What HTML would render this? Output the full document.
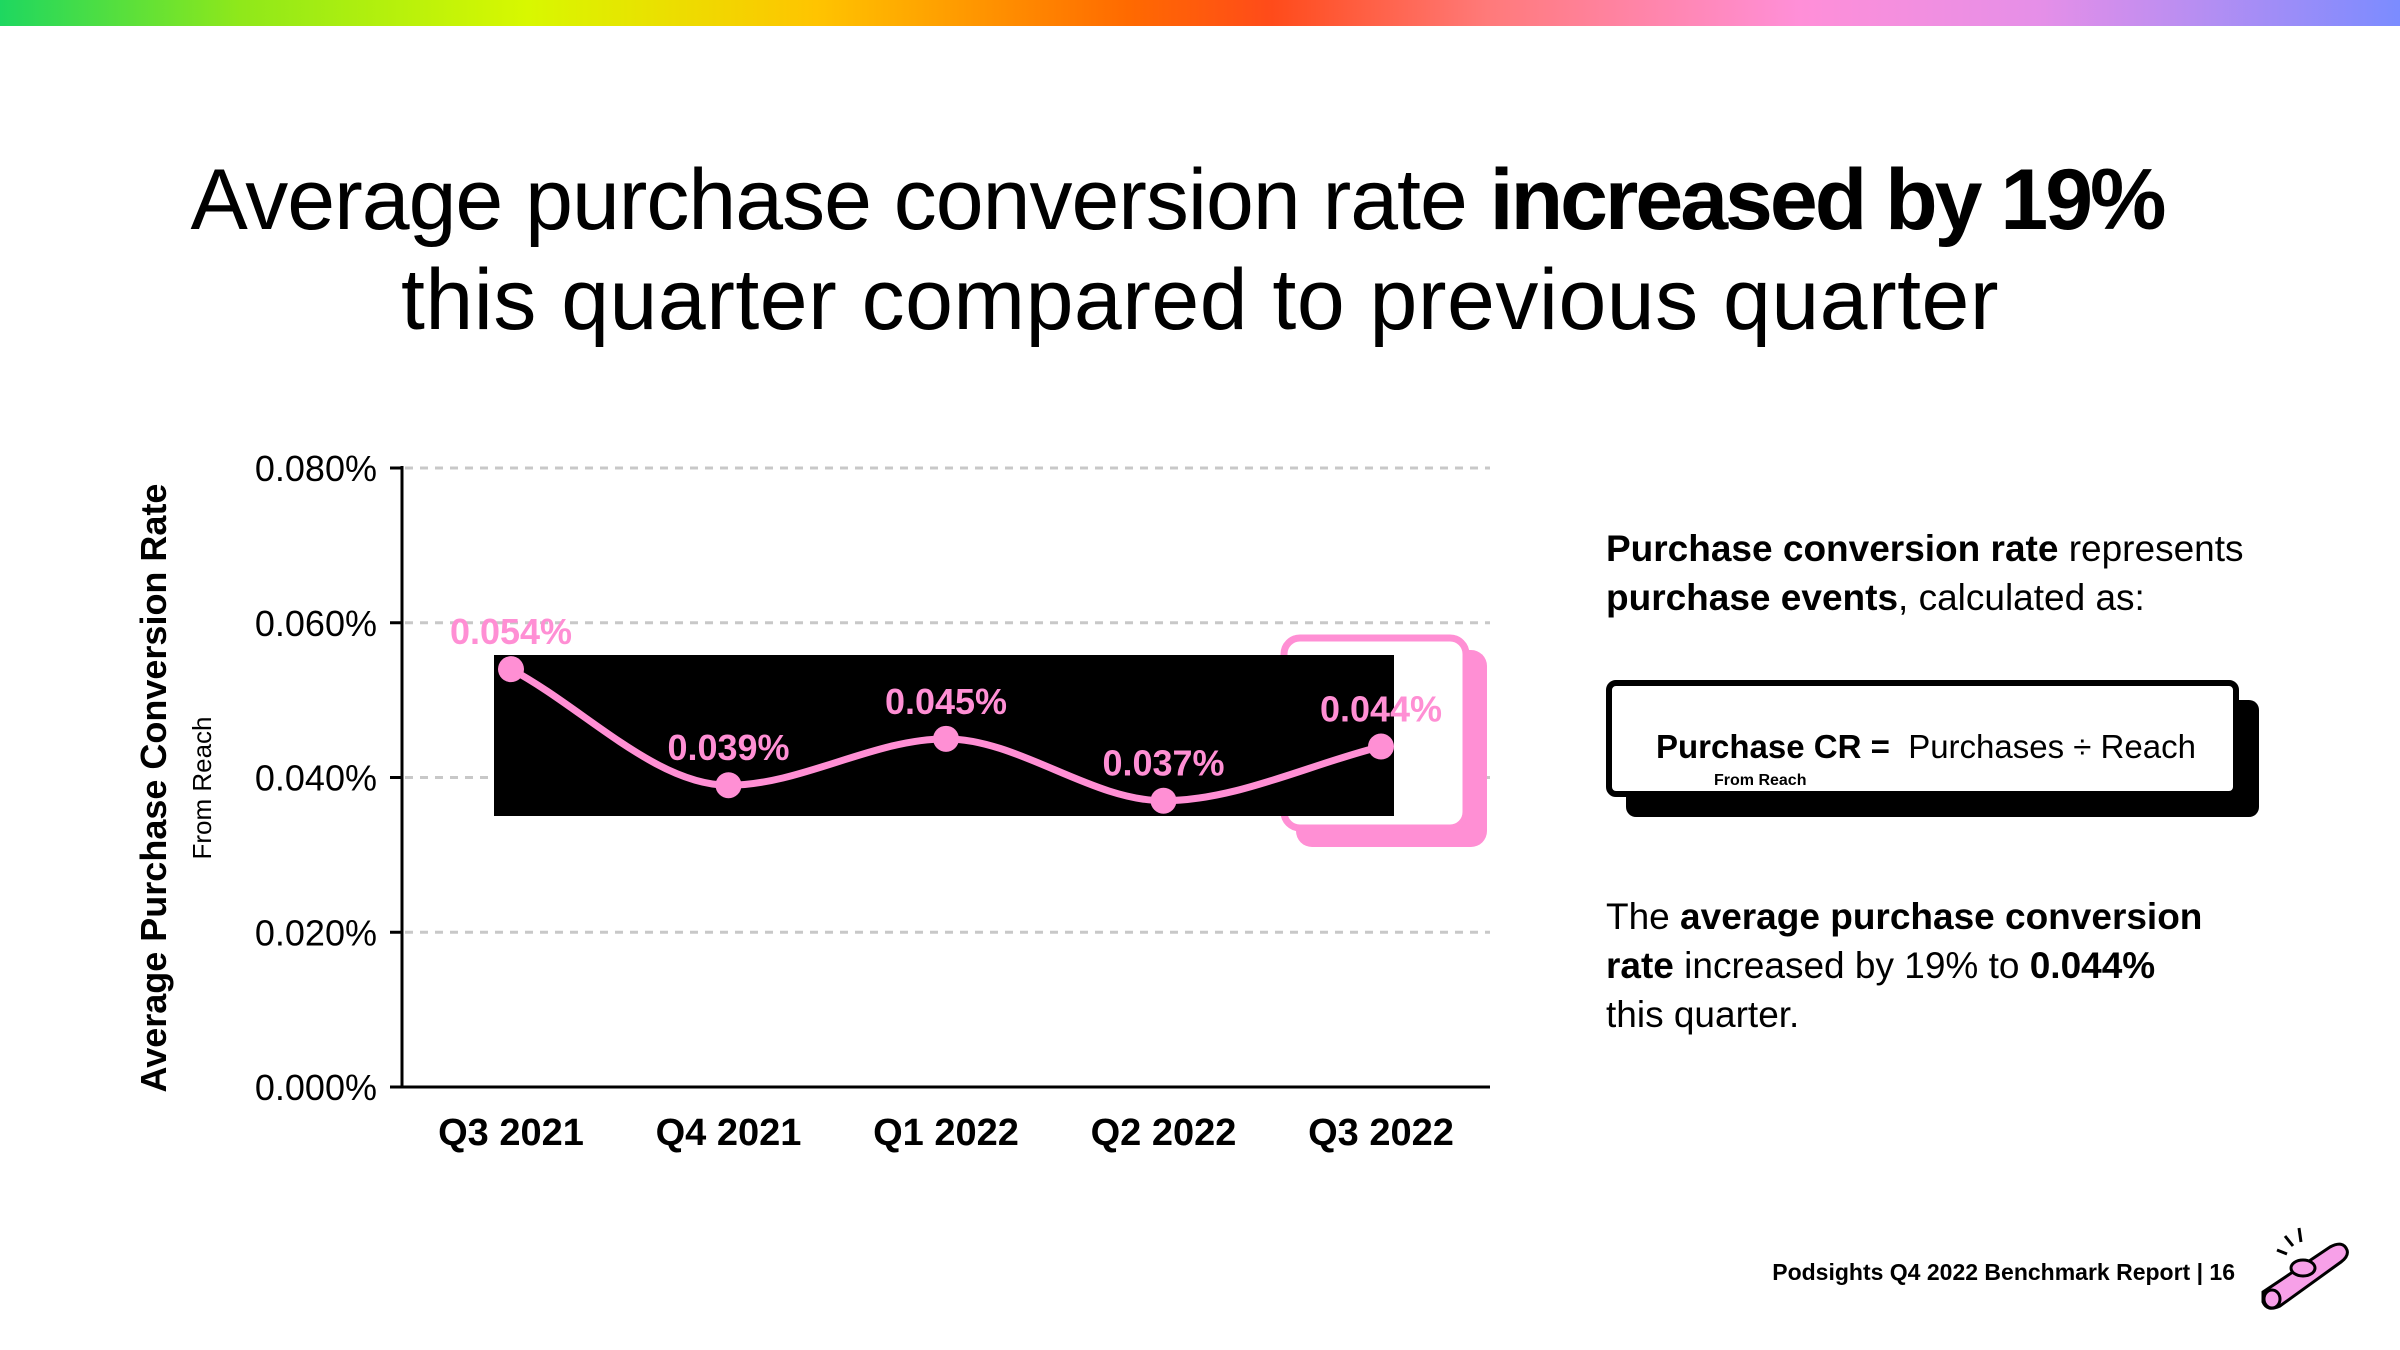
<!DOCTYPE html>
<html><head><meta charset="utf-8">
<style>
html,body{margin:0;padding:0;background:#fff;}
body{width:2400px;height:1350px;position:relative;overflow:hidden;font-family:"Liberation Sans",sans-serif;color:#000;}
.abs{position:absolute;}
#rainbow{left:0;top:0;width:2400px;height:26px;background:linear-gradient(90deg,#1ed760 0%,#8fe81a 10%,#d8f800 22%,#ffc400 34%,#ff6a00 47%,#ff4b1a 53%,#ff7a7a 62%,#ff8fd8 75%,#e58fe8 85%,#7b8cff 100%);}
#title{left:0;top:150px;width:2400px;text-align:center;font-size:86px;line-height:100px;}
#title .l1{letter-spacing:-1px;position:relative;left:-23px;}
#title .l1 b{letter-spacing:-3px;}
#title .l2{letter-spacing:0.5px;}
.rt{font-size:37px;line-height:49px;left:1606px;}
</style></head><body>
<div id="rainbow" class="abs"></div>
<div id="title" class="abs"><span class="l1">Average purchase conversion rate <b>increased by 19%</b></span><br><span class="l2">this quarter compared to previous quarter</span></div>

<svg class="abs" style="left:0;top:0" width="1560" height="1200">
 <g id="grid"></g>
 <rect x="1296" y="650" width="191" height="197" rx="16" fill="#ff8fd4"/>
 <rect x="1284" y="638" width="182" height="190" rx="16" fill="#fff" stroke="#ff8fd4" stroke-width="7"/>
 <rect x="494" y="655" width="900" height="161" fill="#000"/>
 <line x1="402" y1="466" x2="402" y2="1088" stroke="#000" stroke-width="3"/>
 <line x1="400" y1="1087" x2="1490" y2="1087" stroke="#000" stroke-width="3"/>
 <g id="marks"></g>
 <text x="0" y="0" transform="translate(166,788) rotate(-90)" text-anchor="middle" font-size="36" font-weight="bold" font-family="Liberation Sans, sans-serif">Average Purchase Conversion Rate</text>
 <text x="0" y="0" transform="translate(211,788) rotate(-90)" text-anchor="middle" font-size="26" font-family="Liberation Sans, sans-serif">From Reach</text>
</svg>

<div class="abs rt" style="top:524px"><b>Purchase conversion rate</b> represents<br><b>purchase events</b>, calculated as:</div>
<div class="abs" style="left:1626px;top:700px;width:633px;height:117px;background:#000;border-radius:10px"></div>
<div class="abs" style="left:1606px;top:680px;width:621px;height:105px;background:#fff;border:6px solid #000;border-radius:10px">
 <div class="abs" style="left:44px;top:42px;font-size:33px;white-space:nowrap"><b>Purchase CR =</b>&nbsp; Purchases ÷ Reach</div>
 <div class="abs" style="left:102px;top:86px;font-size:16px;font-weight:bold">From Reach</div>
</div>
<div class="abs rt" style="top:892px">The <b>average purchase conversion<br>rate</b> increased by 19% to <b>0.044%</b><br>this quarter.</div>
<div class="abs" style="right:165px;top:1259px;font-size:23px;font-weight:bold">Podsights Q4 2022 Benchmark Report | 16</div>
<svg class="abs" style="left:2255px;top:1222px" width="100" height="90">
 <path d="M8 70 L75 25 Q88 18 92 28 Q94 34 86 40 L25 84 Q12 90 8 80 Z" fill="#f7a0e8" stroke="#000" stroke-width="3"/>
 <ellipse cx="17" cy="77" rx="8" ry="9" fill="#f7a0e8" stroke="#000" stroke-width="3"/>
 <ellipse cx="48" cy="46" rx="12" ry="8" fill="#f7a0e8" stroke="#000" stroke-width="3"/>
 <line x1="30" y1="14" x2="38" y2="24" stroke="#000" stroke-width="3"/>
 <line x1="44" y1="6" x2="46" y2="20" stroke="#000" stroke-width="3"/>
 <line x1="22" y1="28" x2="32" y2="32" stroke="#000" stroke-width="3"/>
</svg>

<script>
const categories = ["Q3 2021","Q4 2021","Q1 2022","Q2 2022","Q3 2022"];
const values = [0.054,0.039,0.045,0.037,0.044];
const valueLabels = ["0.054%","0.039%","0.045%","0.037%","0.044%"];
const yTicks = [0,0.02,0.04,0.06,0.08];
const yTickLabels = ["0.000%","0.020%","0.040%","0.060%","0.080%"];

const NS="http://www.w3.org/2000/svg";
const X0=511, DX=217.5, Y0=1087, YH=619, YMAX=0.08;
const xs=i=>X0+i*DX;
const ys=v=>Y0-v/YMAX*YH;
function mk(tag,at,parent,txt){const e=document.createElementNS(NS,tag);for(const k in at)e.setAttribute(k,at[k]);if(txt!==undefined)e.textContent=txt;parent.appendChild(e);return e;}
const grid=document.getElementById('grid'), marks=document.getElementById('marks');
yTicks.forEach((t,i)=>{
  if(t>0){const l=mk('line',{x1:405,x2:1490,y1:ys(t),y2:ys(t),stroke:'#c8c8c8','stroke-width':3,'stroke-dasharray':'8 7'},grid);
  
  }
  const k=mk('line',{x1:390,x2:402,y1:ys(t),y2:ys(t),stroke:'#000','stroke-width':3},grid);
  
  
  const tx=mk('text',{x:377,y:ys(t)+13,'text-anchor':'end','font-size':36,'font-family':'Liberation Sans, sans-serif'},grid,yTickLabels[i]);
  
  
});
categories.forEach((c,i)=>{
  const t=mk('text',{x:xs(i),y:1145,'text-anchor':'middle','font-size':38,'font-weight':'bold','font-family':'Liberation Sans, sans-serif'},marks,c);
  
  
});
const P=values.map((v,i)=>[xs(i),ys(v)]);
const n=P.length,d=[],m=[];
for(let i=0;i<n-1;i++)d.push((P[i+1][1]-P[i][1])/(P[i+1][0]-P[i][0]));
for(let i=0;i<n;i++){
  if(i==0)m.push(d[0]);else if(i==n-1)m.push(d[n-2]);
  else m.push(d[i-1]*d[i]<=0?0:(d[i-1]+d[i])/2);
}
let path=`M${P[0][0]},${P[0][1]}`;
for(let i=0;i<n-1;i++){const h=(P[i+1][0]-P[i][0])/3;
  path+=` C${P[i][0]+h},${P[i][1]+m[i]*h} ${P[i+1][0]-h},${P[i+1][1]-m[i+1]*h} ${P[i+1][0]},${P[i+1][1]}`;}
const ln=mk('path',{d:path,fill:'none',stroke:'#ff8fd4','stroke-width':7},marks);


values.forEach((v,i)=>{
  const c=mk('circle',{cx:xs(i),cy:ys(v),r:13,fill:'#ff8fd4'},marks);
  
  
  const t=mk('text',{x:xs(i),y:ys(v)-25,'text-anchor':'middle','font-size':36,'font-weight':'bold',fill:'#ff8fd4','font-family':'Liberation Sans, sans-serif'},marks,valueLabels[i]);
  
  
});
</script>
</body></html>
